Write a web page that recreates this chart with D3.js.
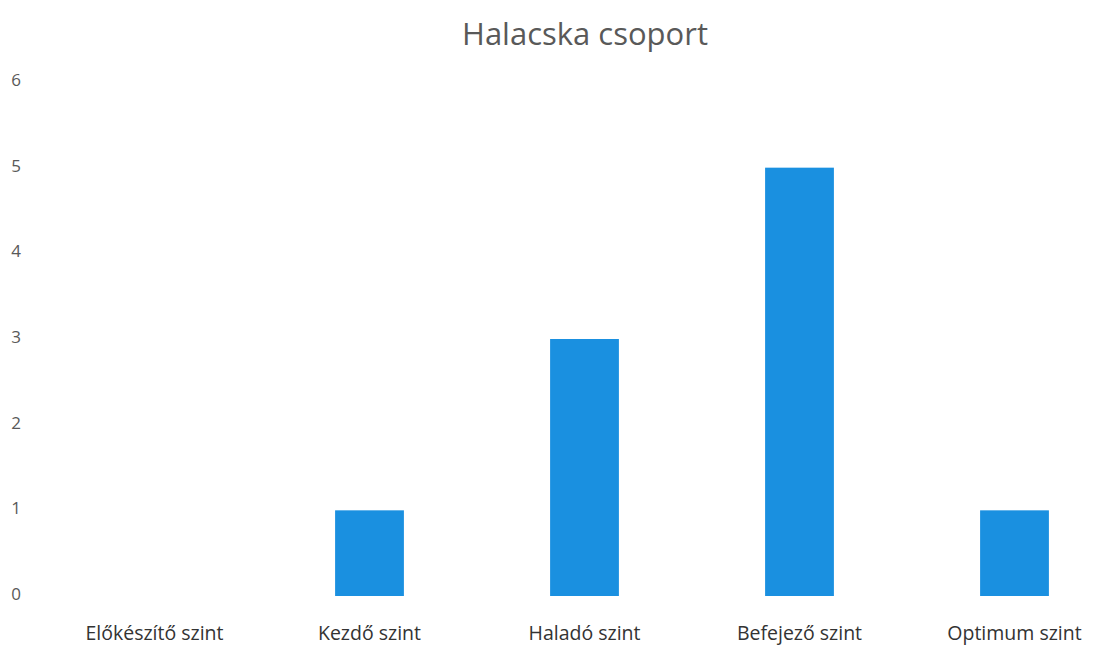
<!DOCTYPE html>
<html><head><meta charset="utf-8">
<script src="https://cdn.jsdelivr.net/npm/d3@7"></script>
<style>body{margin:0;background:#fff;}svg{display:block;}</style>
</head><body>
<script>
const categories = ["Előkészítő szint","Kezdő szint","Haladó szint","Befejező szint","Optimum szint"];
const values = [0, 1, 3, 5, 1];
const yTicks = [0,1,2,3,4,5,6];
const title = "Halacska csoport";

const W = 1093, H = 653;
const svg = d3.select("body").append("svg").attr("width", W).attr("height", H);
const x = d3.scaleBand().domain(categories).range([47, 1122]).paddingInner(0.68).paddingOuter(0.34);
const y = d3.scaleLinear().domain([0, 6]).range([596, 82]);

svg.append("text").attr("x", 585).attr("y", 45).attr("text-anchor", "middle")
  .attr("font-family", "Open Sans").attr("font-size", 31).attr("fill", "#595959").text(title);

const yAxis = svg.append("g").attr("transform", "translate(30,0)")
  .call(d3.axisLeft(y).tickValues(yTicks).tickSize(0).tickPadding(0).tickFormat(d3.format("d")));
yAxis.select(".domain").remove();
yAxis.selectAll("text").attr("text-anchor", "middle").attr("x", -14).attr("dy", "0.2em")
  .attr("font-family", "Open Sans").attr("font-size", 17).attr("fill", "#595959");

svg.append("g").selectAll("rect").data(values).join("rect")
  .attr("x", (d, i) => x(categories[i])).attr("width", x.bandwidth())
  .attr("y", d => y(d)).attr("height", d => y(0) - y(d)).attr("fill", "#1a90e0");

const xAxis = svg.append("g").attr("transform", "translate(0,0)")
  .call(d3.axisBottom(x).tickSize(0).tickPadding(0));
xAxis.select(".domain").remove();
xAxis.selectAll("text").attr("y", 640).attr("dy", 0).attr("font-family", "Open Sans").attr("font-size", 19.5).attr("fill", "#333");
</script>
</body></html>
